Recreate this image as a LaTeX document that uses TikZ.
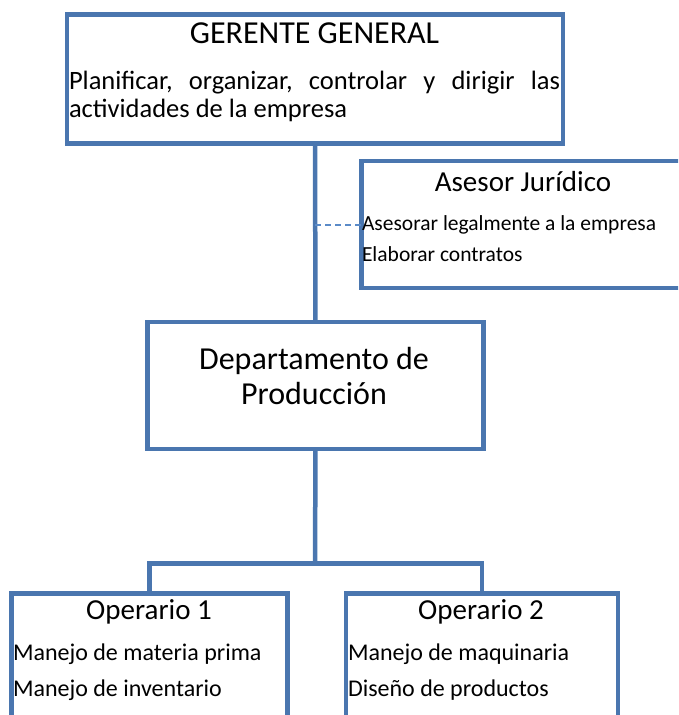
\documentclass[tikz,border=0pt]{standalone}
\usepackage{fontspec}
\setmainfont{Carlito}
\definecolor{boxblue}{HTML}{4A76AF}
\definecolor{dashblue}{HTML}{5B8BC8}
\begin{document}
\begin{tikzpicture}[x=1pt,y=-1pt,
  orgbox/.style={draw=boxblue,line width=4.5pt,fill=none,inner sep=0pt,outer sep=0pt,minimum width=#1},
  link/.style={draw=boxblue,line width=4.5pt},
  dashlink/.style={draw=dashblue,line width=1.5pt,dash pattern=on 6pt off 4pt},
  txt/.style={inner sep=0pt,outer sep=0pt,text=black}]
\useasboundingbox (0,0) rectangle (678,715);
\clip (0,0) rectangle (678,715);
% boxes
\node[orgbox=496pt,minimum height=129pt] (ger) at (315,79.2) {};
\node[orgbox=360pt,minimum height=127pt] (ase) at (541.5,224.6) {};
\node[orgbox=336pt,minimum height=127pt] (dep) at (315.5,385.5) {};
\node[orgbox=276pt,minimum height=200pt] (op1) at (149.5,693.5) {};
\node[orgbox=272pt,minimum height=200pt] (op2) at (482,693.5) {};
\coordinate (bar) at (315,563.5);
\coordinate (tap) at (315,225);
% connectors
\draw[link] (ger.south) -- (dep.north);
\draw[link] (dep.south) -- (bar);
\draw[link,line join=miter] (op1.north) |- (bar) -| (op2.north);
\draw[dashlink] (tap) -- (ase.west |- tap);
% texts
\node[txt,anchor=base] (t1) at (314.5,43) {\fontsize{32}{36}\selectfont GERENTE GENERAL};
\node[txt,anchor=base west] (t2) at (69,89) {\fontsize{26.5}{30}\selectfont\hbox to 491pt{Planificar,\hfill organizar,\hfill controlar\hfill y\hfill dirigir\hfill las}};
\node[txt,anchor=base west] (t3) at (69,117) {\fontsize{26.5}{30}\selectfont actividades de la empresa};
\node[txt,anchor=base] (t4) at (523,191) {\fontsize{29}{33}\selectfont Asesor Jurídico};
\node[txt,anchor=base west] (t5) at (362,230) {\fontsize{21.5}{25}\selectfont Asesorar legalmente a la empresa};
\node[txt,anchor=base west] (t6) at (362,261) {\fontsize{21.5}{25}\selectfont Elaborar contratos};
\node[txt,anchor=base] (t7) at (314,369) {\fontsize{32}{36}\selectfont Departamento de};
\node[txt,anchor=base] (t8) at (314,404) {\fontsize{32}{36}\selectfont Producción};
\node[txt,anchor=base] (t9) at (149,619) {\fontsize{29}{33}\selectfont Operario 1};
\node[txt,anchor=base west] (t10) at (13,660) {\fontsize{24}{28}\selectfont Manejo de materia prima};
\node[txt,anchor=base west] (t11) at (13,696) {\fontsize{24}{28}\selectfont Manejo de inventario};
\node[txt,anchor=base] (t12) at (481,619) {\fontsize{29}{33}\selectfont Operario 2};
\node[txt,anchor=base west] (t13) at (348,660) {\fontsize{24}{28}\selectfont Manejo de maquinaria};
\node[txt,anchor=base west] (t14) at (348,696) {\fontsize{24}{28}\selectfont Diseño de productos};
\end{tikzpicture}
\end{document}
